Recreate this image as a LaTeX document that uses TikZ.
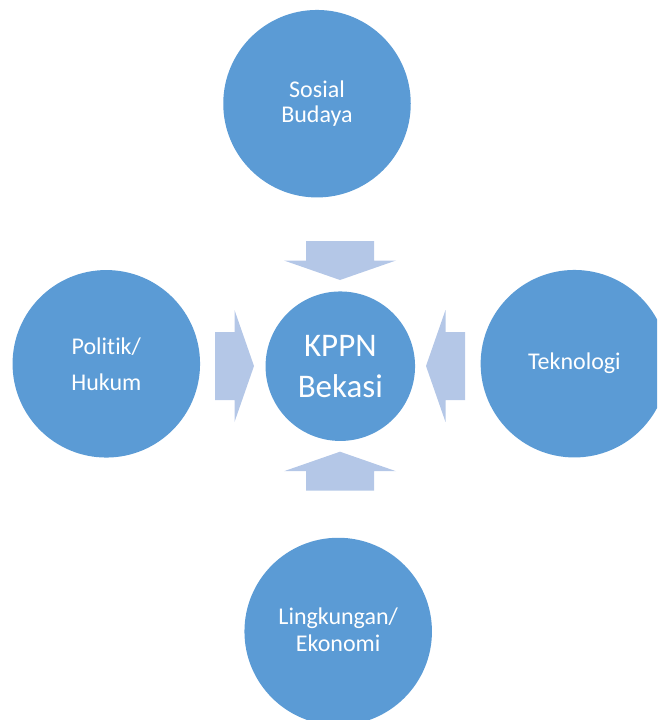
\documentclass[tikz,border=0pt]{standalone}
\usepackage{fontspec}
\setmainfont{Carlito}[Ligatures={NoCommon,NoRare}]
\definecolor{circleblue}{HTML}{5B9BD5}
\definecolor{arrowblue}{HTML}{B4C7E7}
\tikzset{
  factor/.style={circle, fill=circleblue, draw=none, text=white, inner sep=0pt,
    minimum size=187.5pt, align=center, font=\fontsize{24}{25}\selectfont},
  hub/.style={circle, fill=circleblue, draw=none, text=white, inner sep=0pt,
    minimum size=149.5pt, align=center, font=\fontsize{33}{41}\selectfont},
  inflow/.pic={
    \fill[arrowblue] (0,-34) -- (19.5,-34) -- (19.5,-56) -- (39,0)
      -- (19.5,56) -- (19.5,34) -- (0,34) -- cycle;
  }
}
\begin{document}
\begin{tikzpicture}[x=1pt, y=-1pt]
  \useasboundingbox (0,0) rectangle (657,720);
  \clip (0,0) rectangle (657,720);

  % surrounding factors
  \node[factor] (sosial) at (317,103.7) {Sosial\\Budaya};
  \node[factor] (politik) at (106.3,363.8) {Politik/\\[11pt]Hukum};
  \node[factor] (tekno) at (574.4,363.7) {Teknologi};
  \node[factor] (ekonomi) at (338.2,631.5) {\raisebox{3pt}{Lingkungan/}\\[2pt]\raisebox{3pt}{Ekonomi}};

  % central office
  \node[hub] (kppn) at (340.3,366.2) {KPPN\\Bekasi};

  % block arrows pointing inwards
  \pic[rotate=-90] at (340,241) {inflow};
  \pic[rotate=90] at (340,490.7) {inflow};
  \pic at (215,366) {inflow};
  \pic[rotate=180] at (465,366) {inflow};
\end{tikzpicture}
\end{document}
